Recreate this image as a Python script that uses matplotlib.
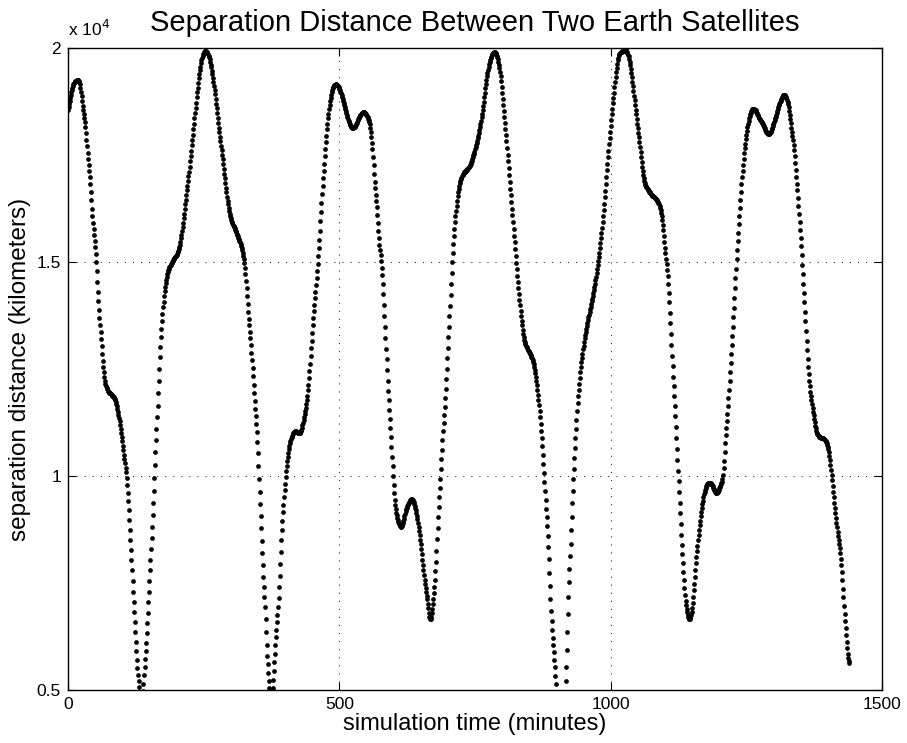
import numpy as np
import matplotlib
matplotlib.use('Agg')
import matplotlib.pyplot as plt

plt.rcParams['font.family'] = ['Liberation Sans', 'DejaVu Sans']
plt.rcParams['lines.scale_dashes'] = False

# separation distance (minutes, km)
knot_t = [0, 5, 10, 17, 22, 27, 32, 36, 40.5, 44, 48.5, 52, 55, 58, 61, 65, 70, 76, 82, 86, 91, 97,
          104, 108, 112, 115, 118, 121, 124, 127, 130, 132.5, 135, 137.5, 140, 143.5, 148, 153, 157.3,
          161, 165.2, 169.5, 174.4, 180.5, 190, 199, 205, 211, 217.4, 223.5, 229.7, 235.8, 242, 248,
          255.5, 260, 266, 272, 278, 284.4, 290.5, 296.7, 305.9, 315, 323, 327.4, 331.7, 336.6, 340.9,
          345, 349, 352, 355, 358, 361, 363, 366, 368.5, 371, 374, 377, 380.5, 384.5, 388, 393, 398,
          404, 410.7, 420, 429, 435, 441.7, 446.6, 450.9, 455.8, 460, 464.4, 468, 472.4, 476.6, 481.5,
          487.7, 494, 500, 505, 514, 520, 526.4, 532, 538.7, 547.9, 553, 557, 561.4, 565, 569.4, 572.5,
          576.8, 580.5, 583.5, 586.6, 589.7, 592.8, 595.9, 598.9, 602, 606.4, 612.5, 617, 621.7, 628,
          634, 639, 643.1, 649.3, 654.2, 658.5, 662.8, 667.5, 671, 673.8, 678, 681.7, 686, 690.3,
          695.2, 700.1, 704.4, 708.7, 713.6, 719.8, 729, 741, 750.4, 759, 765, 771, 777.6, 785, 793,
          797.4, 802.3, 807.2, 811.5, 815.8, 820.7, 825, 828.7, 833, 839.2, 848.4, 857.6, 863.7,
          868.6, 872.9, 877.2, 880.9, 885.2, 888.3, 891.3, 895.6, 898.7, 903, 908, 913, 917, 920,
          923, 926.2, 929.3, 933, 937.3, 943.4, 950.8, 958.8, 968, 977.3, 983.4, 989.5, 995.7,
          1001.8, 1008, 1014, 1019, 1025.8, 1035, 1041, 1047.2, 1053.4, 1059.5, 1068.7, 1081,
          1090.2, 1096.4, 1100.7, 1105.6, 1108.7, 1111.8, 1114.9, 1117.9, 1121, 1124, 1127.1,
          1130.2, 1133.3, 1136.3, 1140.6, 1145.5, 1151.7, 1156, 1160.9, 1167, 1173.2, 1182.4,
          1187, 1192, 1197, 1201, 1204.5, 1207, 1211.2, 1216.2, 1220.5, 1224.2, 1228.5, 1232.8,
          1237.7, 1242, 1247, 1253.1, 1259.2, 1265.4, 1272, 1280, 1291, 1304.6, 1314, 1321.8,
          1329.1, 1334, 1338.4, 1341.4, 1344.5, 1347.6, 1350.7, 1353.8, 1356.9, 1359.9, 1363,
          1367.3, 1372.2, 1378.4, 1387.6, 1396.8, 1402, 1406, 1411, 1418, 1425, 1430, 1435,
          1438, 1440]
knot_km = [18550, 18900, 19150, 19250, 19150, 18650, 18150, 17550, 16900, 16250, 15550, 15000, 14300,
           13700, 13200, 12550, 12100, 11950, 11880, 11800, 11570, 11100, 10400, 9950, 9200, 8500,
           7800, 7050, 6360, 5700, 5200, 4900, 4800, 4900, 5350, 6000, 7050, 8300, 9450, 10550,
           11700, 12900, 13850, 14550, 14950, 15150, 15350, 15820, 16500, 17170, 17940, 18700,
           19390, 19820, 19910, 19780, 19390, 18810, 18140, 17460, 16790, 16210, 15820, 15530,
           15145, 14660, 13890, 13120, 12350, 11570, 10800, 9930, 9060, 8200, 7400, 6950, 6050,
           5500, 5050, 4750, 5050, 5750, 6500, 7150, 8500, 9500, 10350, 10850, 11040, 11040, 11380,
           11960, 12730, 13500, 14280, 14950, 15820, 16590, 17365, 18040, 18620, 19050, 19150,
           19050, 18850, 18430, 18200, 18140, 18250, 18430, 18475, 18350, 18140, 17560, 16880,
           16210, 15630, 15050, 14370, 13600, 12830, 12060, 11380, 10700, 10030, 9450, 9060, 8820,
           8900, 9160, 9380, 9450, 9300, 9060, 8480, 7900, 7420, 7040, 6650, 6900, 7230, 8000,
           8970, 9930, 10900, 11860, 13020, 14080, 15150, 16010, 16690, 17075, 17270, 17650, 18150,
           18650, 19250, 19700, 19900, 19680, 19300, 18620, 17940, 17270, 16590, 15820, 15145,
           14570, 13990, 13310, 12925, 12635, 12150, 11570, 10900, 10030, 9256, 8290, 7330, 6550,
           5780, 5200, 4400, 4000, 4400, 5200, 6360, 7520, 8480, 9450, 10415, 11380, 12345, 13118,
           13697, 14276, 15048, 15724, 16593, 17558, 18427, 19199, 19778, 19900, 19952, 19682,
           19103, 18427, 17751, 17075, 16689, 16496, 16303, 15820, 15241, 14566, 13890, 13118,
           12345, 11670, 10897, 10125, 9353, 8581, 7905, 7326, 6843, 6650, 7133, 7808, 8484, 9160,
           9643, 9836, 9780, 9650, 9620, 9750, 9850, 10030, 10800, 11670, 12538, 13311, 14276,
           15241, 16206, 16979, 17654, 18234, 18524, 18572, 18400, 18234, 17992, 18427, 18800,
           18890, 18524, 18041, 17558, 17075, 16593, 16014, 15434, 14759, 14083, 13407, 12732,
           12056, 11573, 11090, 10897, 10800, 10550, 10150, 9500, 8700, 7920, 6970, 6129,
           5750, 5631]

y_ticks = [5000, 10000, 15000, 20000]
y_ticklabels = ['0.5', '1', '1.5', '2']
x_ticks = [0, 500, 1000, 1500]


def natural_spline(xk, yk, xs):
    xk = np.asarray(xk, float)
    yk = np.asarray(yk, float)
    n = len(xk)
    h = np.diff(xk)
    A = np.zeros((n, n))
    r = np.zeros(n)
    A[0, 0] = 1
    A[-1, -1] = 1
    for i in range(1, n - 1):
        A[i, i - 1] = h[i - 1]
        A[i, i] = 2 * (h[i - 1] + h[i])
        A[i, i + 1] = h[i]
        r[i] = 6 * ((yk[i + 1] - yk[i]) / h[i] - (yk[i] - yk[i - 1]) / h[i - 1])
    M = np.linalg.solve(A, r)
    j = np.clip(np.searchsorted(xk, xs) - 1, 0, n - 2)
    a = xk[j + 1] - xs
    b = xs - xk[j]
    hj = h[j]
    return (M[j] * a**3 / (6 * hj) + M[j + 1] * b**3 / (6 * hj)
            + (yk[j] / hj - M[j] * hj / 6) * a + (yk[j + 1] / hj - M[j + 1] * hj / 6) * b)


t = np.arange(0, 1441)
dist = natural_spline(knot_t, knot_km, t)

fig = plt.figure(figsize=(9.07, 7.43), dpi=100)
ax = fig.add_axes([68 / 907, 53 / 743, 814 / 907, 642 / 743])
ax.plot(t, dist, 'o', ms=3.4, mew=0, color='black')

ax.set_xlim(0, 1500)
ax.set_ylim(5000, 20000)
ax.set_xticks(x_ticks)
ax.set_yticks(y_ticks)
ax.set_yticklabels(y_ticklabels)
ax.tick_params(direction='in', length=6, width=0.8, labelsize=12.5, top=True, right=True, pad=5)
for s in ax.spines.values():
    s.set_linewidth(1.0)
ax.grid(True, color='black', linewidth=0.6, linestyle=(0, (0.8, 5.0)))

ax.text(0, 1.014, 'x 10$^4$', transform=ax.transAxes, fontsize=12.5, ha='left', va='bottom')
ax.set_title('Separation Distance Between Two Earth Satellites', fontsize=21, pad=12)
ax.set_xlabel('simulation time (minutes)', fontsize=17, labelpad=1)
ax.set_ylabel('separation distance (kilometers)', fontsize=17.5, labelpad=4)

fig.savefig('out.png', dpi=100)
